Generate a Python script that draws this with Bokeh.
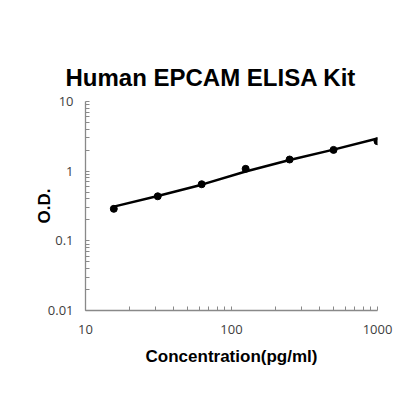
from bokeh.plotting import figure
from bokeh.models import FixedTicker, CustomJSTickFormatter, Title
from bokeh.embed import file_html
from bokeh.resources import INLINE

# data
conc = [15.625, 31.25, 62.5, 125, 250, 500, 1000]
od = [0.288, 0.436, 0.649, 1.08, 1.47, 2.02, 2.69]
fit_conc = [15.625, 31.25, 62.5, 125, 250, 500, 1000]
fit_od = [0.31, 0.44, 0.64, 0.99, 1.45, 2.04, 2.95]

x_major = [10, 100, 1000]
y_major = [0.01, 0.1, 1, 10]
mant = [2, 3, 4, 5, 6, 7, 8, 9]
x_minor = [m * d for d in [10, 100] for m in mant]
y_minor = [round(m * d, 4) for d in [0.01, 0.1, 1] for m in mant]

p = figure(width=403, height=404, x_axis_type="log", y_axis_type="log",
           x_range=(10, 1000), y_range=(0.01, 10),
           output_backend="svg", toolbar_location=None,
           min_border_left=85, min_border_right=26,
           min_border_top=101, min_border_bottom=94)
p.title = None
t = Title(text="Human EPCAM ELISA Kit", align="left", offset=-20,
          text_font="Liberation Sans", text_font_size="24px",
          text_font_style="bold", text_color="black", standoff=22)
p.add_layout(t, "above")

p.outline_line_color = None
p.xgrid.visible = False
p.ygrid.visible = False
p.background_fill_color = "white"
p.border_fill_color = "white"

for ax in (p.xaxis[0], p.yaxis[0]):
    ax.axis_line_color = "#898989"
    ax.axis_line_width = 1.3
    ax.major_tick_line_color = "#898989"
    ax.minor_tick_line_color = "#898989"
    ax.major_tick_in = 4
    ax.major_tick_out = 0
    ax.minor_tick_in = 4
    ax.minor_tick_out = 0
    ax.major_label_text_font = "Open Sans"
    ax.major_label_text_font_size = "13px"
    ax.major_label_text_color = "#404040"
    ax.major_label_standoff = 12
    ax.axis_label_text_font = "Liberation Sans"
    ax.axis_label_text_font_size = "17px"
    ax.axis_label_text_font_style = "bold"
    ax.axis_label_text_color = "black"
    ax.formatter = CustomJSTickFormatter(code="return String(tick);")

p.xaxis[0].ticker = FixedTicker(ticks=x_major, minor_ticks=x_minor)
p.yaxis[0].ticker = FixedTicker(ticks=y_major, minor_ticks=y_minor)
p.xaxis[0].major_label_standoff = 14
p.xaxis[0].axis_label = "Concentration(pg/ml)"
p.yaxis[0].axis_label = "O.D."
p.xaxis[0].axis_label_standoff = 10
p.yaxis[0].axis_label_standoff = -9

p.line(fit_conc, fit_od, line_color="black", line_width=2.5)
p.scatter(conc, od, size=7, fill_color="black", line_color="black")

open("out.html", "w").write(file_html(p, INLINE))
